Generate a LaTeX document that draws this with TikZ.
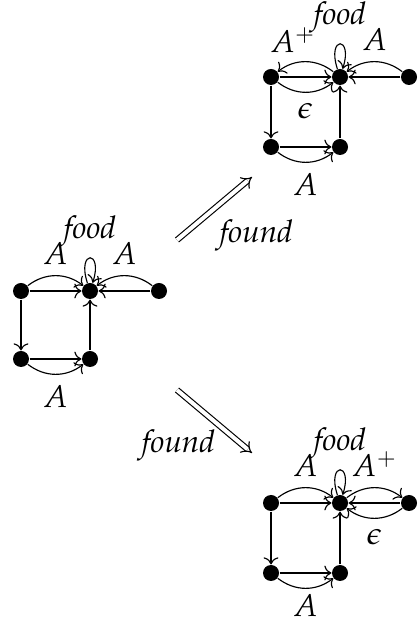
\documentclass[tikz,border=0pt,11pt]{standalone}
\usepackage{mathpazo}
\usepackage{tikz}
\usetikzlibrary{arrows.meta}

\begin{document}
\begin{tikzpicture}[x=0.35pt,y=0.35pt,>=To,
    vtx/.style={circle,fill,inner sep=0pt,minimum size=5.6pt},
    arc/.style={->,bend left=38},
    cra/.style={->,bend right=38},
    foodloop/.style={->,loop,out=108,in=72,min distance=4.3mm},
    leadsto/.style={double,double distance=1.4pt,-Implies}]

    \useasboundingbox (0,0) rectangle (417,619);

    % Start graph
    \node[vtx] (a1) at (21,328) {};
    \node[vtx] (a2) at (90,328) {};
    \node[vtx] (a3) at (159,328) {};
    \node[vtx] (a4) at (21,260) {};
    \node[vtx] (a5) at (90,260) {};
    \draw[->] (a1) -- (a2);
    \draw[arc] (a1) to node[above] {$A$} (a2);
    \draw[->] (a3) -- (a2);
    \draw[cra] (a3) to node[above] {$A$} (a2);
    \draw[->] (a1) -- (a4);
    \draw[->] (a4) -- (a5);
    \draw[cra] (a4) to node[below] {$A$} (a5);
    \draw[->] (a5) -- (a2);
    \draw[foodloop] (a2) to node[above] {$\mathit{food}$} (a2);

    % Graph after food found (top)
    \node[vtx] (b1) at (271,542) {};
    \node[vtx] (b2) at (340,542) {};
    \node[vtx] (b3) at (409,542) {};
    \node[vtx] (b4) at (271,472) {};
    \node[vtx] (b5) at (340,472) {};
    \draw[->] (b1) -- (b2);
    \draw[cra] (b2) to node[above,pos=0.72] {$A^+$} (b1);
    \draw[cra] (b1) to node[below] {$\epsilon$} (b2);
    \draw[->] (b3) -- (b2);
    \draw[cra] (b3) to node[above] {$A$} (b2);
    \draw[->] (b1) -- (b4);
    \draw[->] (b4) -- (b5);
    \draw[cra] (b4) to node[below] {$A$} (b5);
    \draw[->] (b5) -- (b2);
    \draw[foodloop] (b2) to node[above] {$\mathit{food}$} (b2);

    % Graph after food found (bottom)
    \node[vtx] (c1) at (271,116) {};
    \node[vtx] (c2) at (340,116) {};
    \node[vtx] (c3) at (409,116) {};
    \node[vtx] (c4) at (271,46) {};
    \node[vtx] (c5) at (340,46) {};
    \draw[->] (c1) -- (c2);
    \draw[arc] (c1) to node[above] {$A$} (c2);
    \draw[arc] (c2) to node[above] {$A^+$} (c3);
    \draw[->] (c3) -- (c2);
    \draw[arc] (c3) to node[below] {$\epsilon$} (c2);
    \draw[->] (c1) -- (c4);
    \draw[->] (c4) -- (c5);
    \draw[cra] (c4) to node[below,inner sep=2pt] {$A$} (c5);
    \draw[->] (c5) -- (c2);
    \draw[foodloop] (c2) to node[above] {$\mathit{food}$} (c2);

    % Transitions
    \coordinate (up0) at (177,379);
    \coordinate (up1) at (252,442);
    \coordinate (dn0) at (177,229);
    \coordinate (dn1) at (252,166);
    \draw[leadsto] (up0) -- node[below right,xshift=-2pt] {$\mathit{found}$} (up1);
    \draw[leadsto] (dn0) -- node[below left,xshift=4pt,yshift=1pt] {$\mathit{found}$} (dn1);

\end{tikzpicture}
\end{document}
